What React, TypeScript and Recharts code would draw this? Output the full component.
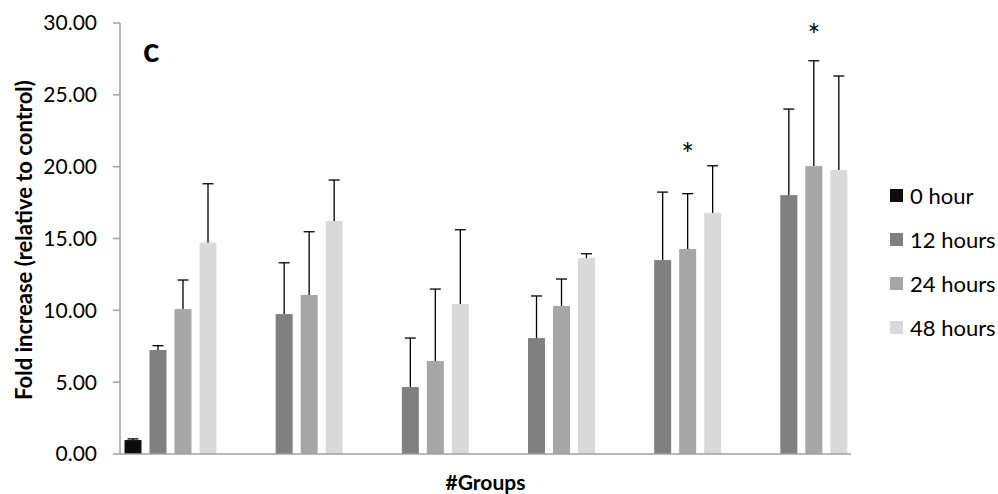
import React from 'react';
import { BarChart, Bar, XAxis, YAxis, Legend, Label } from 'recharts';

const groups = ['G1', 'G2', 'G3', 'G4', 'G5', 'G6'];
const seriesNames = ['0 hour', '12 hours', '24 hours', '48 hours'];
const hour0: (number | null)[] = [0.97, null, null, null, null, null];
const hour12 = [7.24, 9.74, 4.66, 8.07, 13.5, 18.02];
const hour24 = [10.09, 11.07, 6.47, 10.3, 14.27, 20.04];
const hour48 = [14.73, 16.22, 10.44, 13.64, 16.77, 19.76];
const err0: (number | null)[] = [0.08, null, null, null, null, null];
const err12 = [0.3, 3.57, 3.41, 2.93, 4.73, 5.99];
const err24 = [2.02, 4.4, 5.01, 1.88, 3.85, 7.33];
const err48 = [4.08, 2.85, 5.17, 0.3, 3.29, 6.55];
const star24: (number | null)[] = [null, null, null, null, 21.3, 29.6];
const yTicks = [0, 5, 10, 15, 20, 25, 30];

const colors = ['#0d0d0d', '#808080', '#a6a6a6', '#d9d9d9'];
const FONT = 'Lato, "Open Sans", sans-serif';

const data = groups.map((g, i) => ({
  group: g,
  h0: hour0[i],
  h12: hour12[i],
  h24: hour24[i],
  h48: hour48[i],
  e0: err0[i],
  e12: err12[i],
  e24: err24[i],
  e48: err48[i],
  star: star24[i],
}));

const makeShape = (valKey: string, errKey: string, withStar: boolean) => (props: any) => {
  const { x, y, width, height, fill, payload } = props;
  const v = payload ? payload[valKey] : null;
  if (v == null || !height || height <= 0) return <g />;
  const ppu = height / v;
  const cx = x + width / 2;
  const err = payload[errKey];
  const bottom = y + height;
  const topErr = err != null ? y - err * ppu : y;
  const star = withStar ? payload.star : null;
  return (
    <g>
      <rect x={x} y={y} width={width} height={height} fill={fill} />
      {err != null && (
        <g stroke="#000" strokeWidth={1.3}>
          <line x1={cx} y1={y} x2={cx} y2={topErr} />
          <line x1={cx - 5.5} y1={topErr} x2={cx + 5.5} y2={topErr} />
        </g>
      )}
      {star != null && (
        <text x={cx} y={bottom - star * ppu + 17} textAnchor="middle" fontSize={30} fontFamily={FONT} fill="#000">
          *
        </text>
      )}
    </g>
  );
};

const renderLegend = (props: any) => {
  const payload = props.payload || [];
  return (
    <div style={{ fontFamily: FONT, fontSize: 22, color: '#000' }}>
      {payload.map((p: any, i: number) => (
        <div key={i} style={{ display: 'flex', alignItems: 'center', height: 44 }}>
          <span style={{ display: 'inline-block', width: 13, height: 13, background: p.color, marginRight: 7 }} />
          <span>{p.value}</span>
        </div>
      ))}
    </div>
  );
};

export default function App() {
  return (
    <div style={{ position: 'absolute', left: 0, top: 0, width: 998, height: 494, background: '#fff', fontFamily: FONT }}>
      <BarChart
        width={998}
        height={494}
        data={data}
        margin={{ top: 23, right: 147, bottom: 0, left: 60 }}
        barSize={17}
        barGap={8}
        style={{ fontFamily: FONT }}
      >
        <XAxis
          dataKey="group"
          tick={false}
          tickLine={false}
          height={40}
          axisLine={{ stroke: '#a0a0a0', strokeWidth: 1.5 }}
          padding={{ left: -12.5, right: -13.5 }}
        >
          <Label
            content={(p: any) => {
              const vb = p.viewBox || {};
              return (
                <text x={vb.x + vb.width / 2} y={vb.y + 36} textAnchor="middle" fontSize={21} fontWeight="bold" fontFamily={FONT} fill="#000">
                  #Groups
                </text>
              );
            }}
          />
        </XAxis>
        <YAxis
          width={60}
          domain={[0, 30]}
          ticks={yTicks}
          interval={0}
          tickFormatter={(v: number) => v.toFixed(2)}
          tick={{ fill: '#000', fontSize: 21, fontFamily: FONT }}
          axisLine={{ stroke: '#a0a0a0', strokeWidth: 1.5 }}
          tickLine={{ stroke: '#a0a0a0', strokeWidth: 1.5 }}
          tickSize={7}
          tickMargin={16}
        >
          <Label
            content={(p: any) => {
              const vb = p.viewBox || {};
              const cy = vb.y + vb.height / 2 + 1.5;
              const cx = 23;
              return (
                <text
                  x={cx}
                  y={cy}
                  transform={`rotate(-90, ${cx}, ${cy})`}
                  textAnchor="middle"
                  dominantBaseline="central"
                  fontSize={22}
                  fontWeight="bold"
                  fontFamily={FONT}
                  fill="#000"
                >
                  Fold increase (relative to control)
                </text>
              );
            }}
          />
        </YAxis>
        <Legend
          layout="vertical"
          align="center"
          verticalAlign="middle"
          content={renderLegend}
          wrapperStyle={{ position: 'absolute', left: 890, top: 173, width: 108 }}
        />
        <Bar dataKey="h0" name={seriesNames[0]} fill={colors[0]} isAnimationActive={false} shape={makeShape('h0', 'e0', false)} />
        <Bar dataKey="h12" name={seriesNames[1]} fill={colors[1]} isAnimationActive={false} shape={makeShape('h12', 'e12', false)} />
        <Bar dataKey="h24" name={seriesNames[2]} fill={colors[2]} isAnimationActive={false} shape={makeShape('h24', 'e24', true)} />
        <Bar dataKey="h48" name={seriesNames[3]} fill={colors[3]} isAnimationActive={false} shape={makeShape('h48', 'e48', false)} />
        <text x={143} y={62} fontSize={34} fontWeight="bold" fontFamily={FONT} fill="#000">
          c
        </text>
      </BarChart>
    </div>
  );
}
